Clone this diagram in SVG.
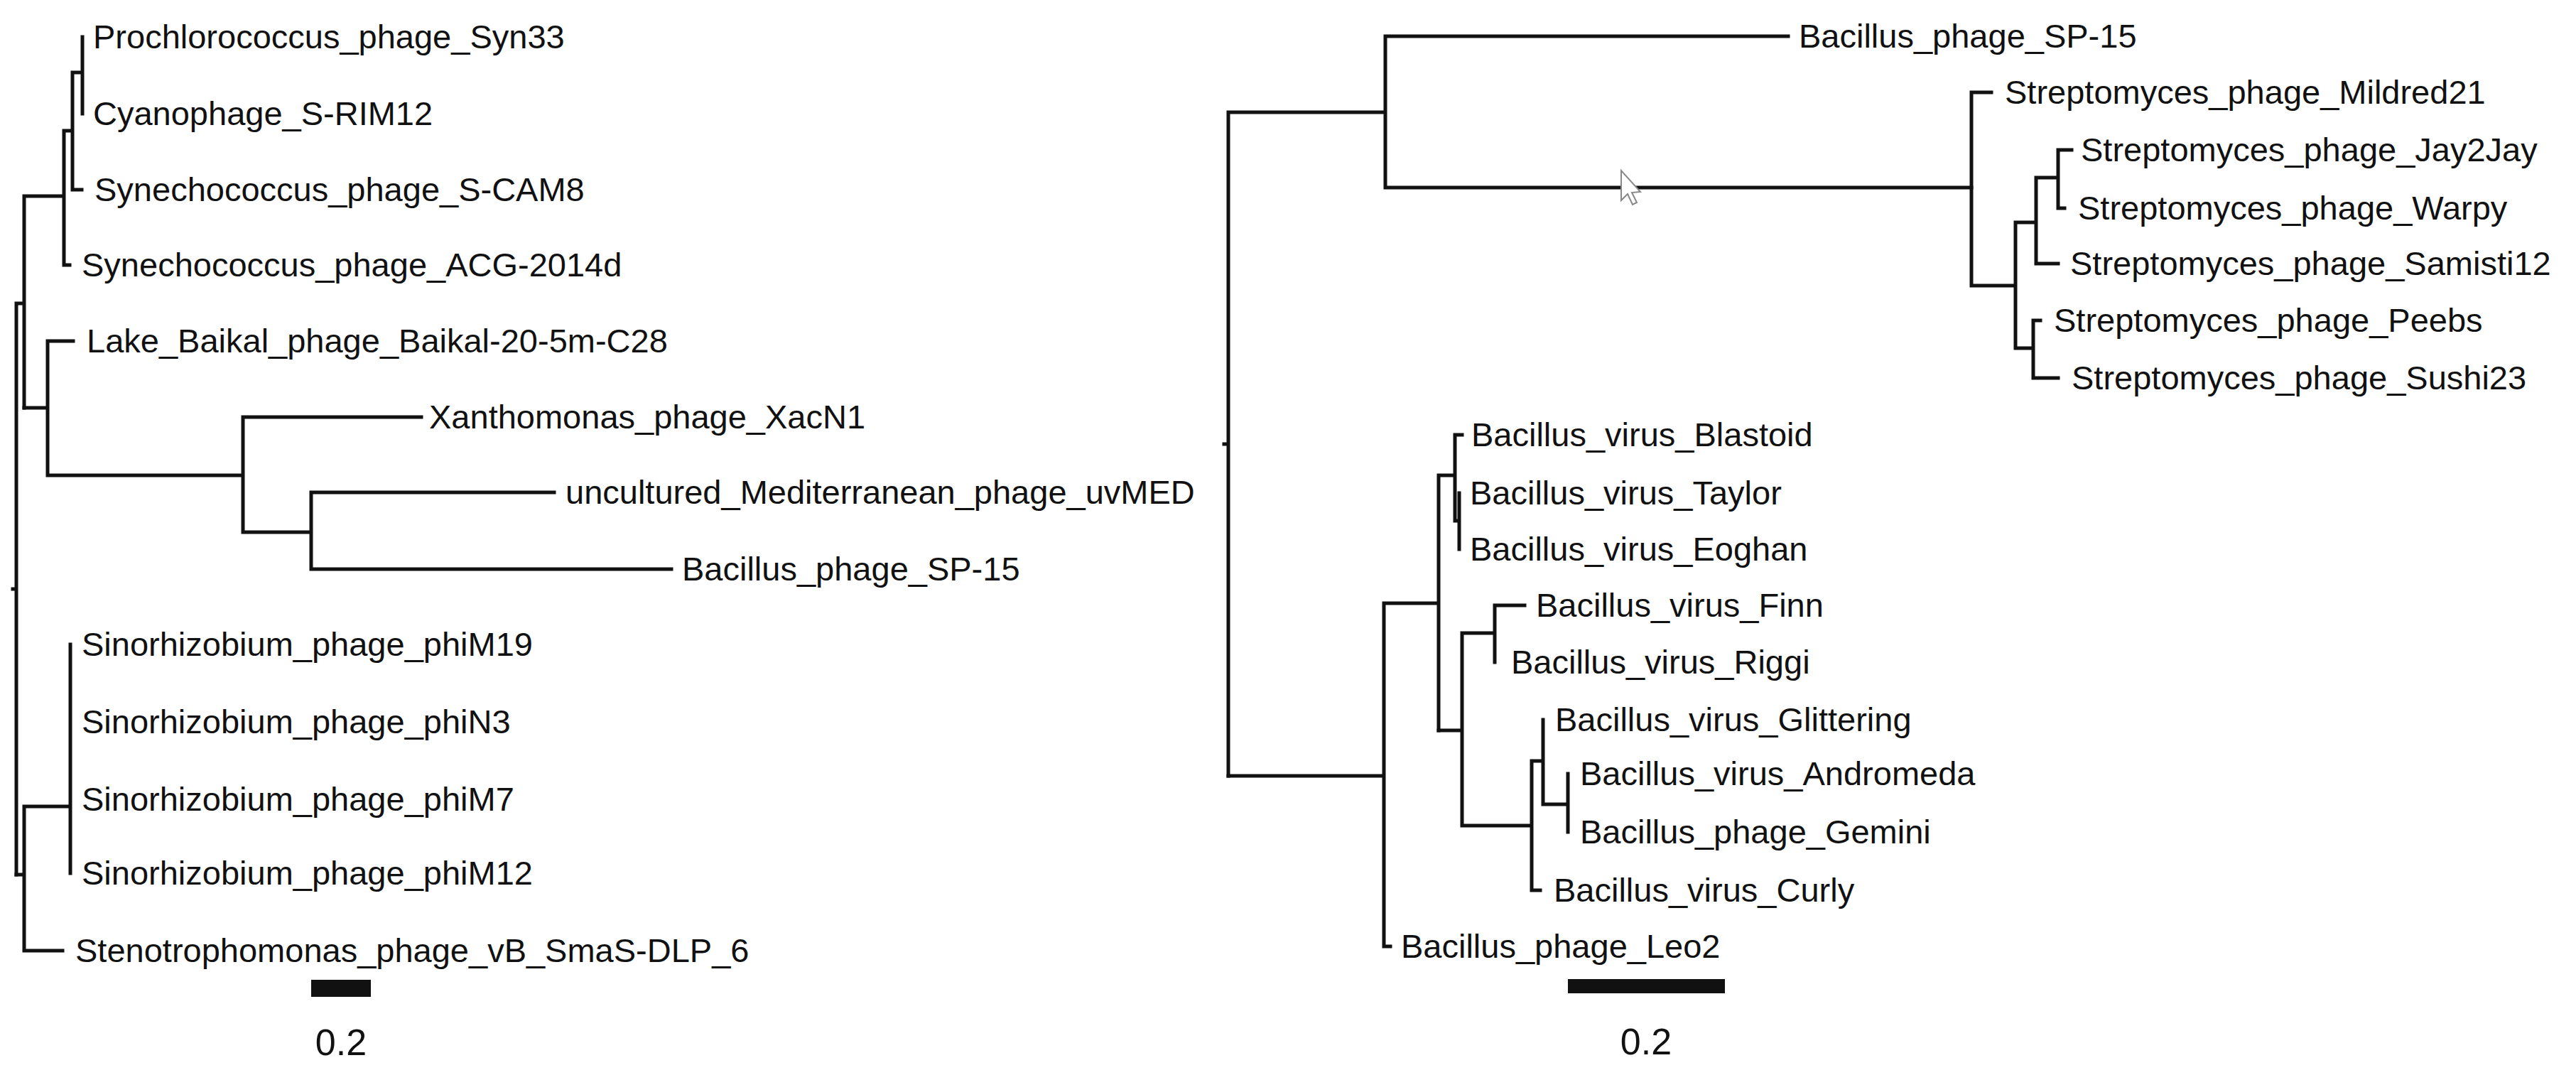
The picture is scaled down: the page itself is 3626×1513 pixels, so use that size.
<svg xmlns="http://www.w3.org/2000/svg" width="3626" height="1513" viewBox="0 0 3626 1513">
<style>
.e{fill:none;stroke:#111;stroke-width:5;stroke-linecap:square;stroke-linejoin:miter}
.t{font-family:"Liberation Sans",Arial,sans-serif;font-size:47px;fill:#111}
.s{font-family:"Liberation Sans",Arial,sans-serif;font-size:52px;fill:#111;text-anchor:middle}
</style>
<rect width="3626" height="1513" fill="#fff"/>
<g id="connectors">
<!-- left tree -->
<path class="e" d="M18,829 H23 M23,427 V1231 M23,427 H34 M34,276 V574 M34,276 H90 M90,184 V373 H98 M90,184 H102 M102,102 V267 H115 M102,102 H116 M116,52 V160"/>
<path class="e" d="M34,574 H67 M67,480 V669 M67,480 H103 M67,669 H342 M342,587 V749 M342,587 H593 M342,749 H438 M438,693 V801 M438,693 H780 M438,801 H945"/>
<path class="e" d="M23,1231 H34 M34,1135 V1338 H88 M34,1135 H99 M99,907 V1229"/>
<!-- right tree -->
<path class="e" d="M1723,625 H1729 M1729,158 V1092 M1729,158 H1950 M1950,51 V264 M1950,51 H2517 M1950,264 H2775"/>
<path class="e" d="M2775,130 V402 M2775,130 H2803 M2775,402 H2837 M2837,313 V490 M2837,313 H2866 M2866,250 V371 H2897 M2866,250 H2897 M2897,211 V293 M2897,211 H2916 M2897,293 H2906 M2837,490 H2862 M2862,451 V532 H2897 M2862,451 H2872"/>
<path class="e" d="M1729,1092 H1948 M1948,849 V1332 H1957 M1948,849 H2025 M2025,669 V1028 M2025,669 H2048 M2048,612 V733 M2048,612 H2058 M2048,733 H2054 M2054,694 V773"/>
<path class="e" d="M2025,1028 H2058 M2058,891 V1162 M2058,891 H2104 M2104,852 V932 M2104,852 H2146 M2058,1162 H2156 M2156,1071 V1253 H2168 M2156,1071 H2172 M2172,1013 V1132 M2172,1132 H2207 M2207,1089 V1171"/>
</g>
<g id="left-leaves">
<g id="n-syn33"><text class="t" x="131" y="68">Prochlorococcus_phage_Syn33</text></g>
<g id="n-srim12"><text class="t" x="131" y="176">Cyanophage_S-RIM12</text></g>
<g id="n-scam8"><text class="t" x="133" y="283">Synechococcus_phage_S-CAM8</text></g>
<g id="n-acg"><text class="t" x="115" y="389">Synechococcus_phage_ACG-2014d</text></g>
<g id="n-baikal"><text class="t" x="122" y="496">Lake_Baikal_phage_Baikal-20-5m-C28</text></g>
<g id="n-xac"><text class="t" x="604" y="603">Xanthomonas_phage_XacN1</text></g>
<g id="n-uvmed"><text class="t" x="796" y="709">uncultured_Mediterranean_phage_uvMED</text></g>
<g id="n-sp15a"><text class="t" x="960" y="817">Bacillus_phage_SP-15</text></g>
<g id="n-m19"><text class="t" x="115" y="923">Sinorhizobium_phage_phiM19</text></g>
<g id="n-n3"><text class="t" x="115" y="1032">Sinorhizobium_phage_phiN3</text></g>
<g id="n-m7"><text class="t" x="115" y="1141">Sinorhizobium_phage_phiM7</text></g>
<g id="n-m12"><text class="t" x="115" y="1245">Sinorhizobium_phage_phiM12</text></g>
<g id="n-steno"><text class="t" x="106" y="1354">Stenotrophomonas_phage_vB_SmaS-DLP_6</text></g>
<g id="scale-left"><rect x="438" y="1379" width="84" height="24" fill="#111"/><text class="s" x="480" y="1485">0.2</text></g>
</g>
<g id="right-leaves">
<g id="n-sp15b"><text class="t" x="2532" y="67">Bacillus_phage_SP-15</text></g>
<g id="n-mildred"><text class="t" x="2822" y="146">Streptomyces_phage_Mildred21</text></g>
<g id="n-jay"><text class="t" x="2929" y="227">Streptomyces_phage_Jay2Jay</text></g>
<g id="n-warpy"><text class="t" x="2925" y="309">Streptomyces_phage_Warpy</text></g>
<g id="n-samisti"><text class="t" x="2914" y="387">Streptomyces_phage_Samisti12</text></g>
<g id="n-peebs"><text class="t" x="2891" y="467">Streptomyces_phage_Peebs</text></g>
<g id="n-sushi"><text class="t" x="2916" y="548">Streptomyces_phage_Sushi23</text></g>
<g id="n-blastoid"><text class="t" x="2071" y="628">Bacillus_virus_Blastoid</text></g>
<g id="n-taylor"><text class="t" x="2069" y="710">Bacillus_virus_Taylor</text></g>
<g id="n-eoghan"><text class="t" x="2069" y="789">Bacillus_virus_Eoghan</text></g>
<g id="n-finn"><text class="t" x="2162" y="868">Bacillus_virus_Finn</text></g>
<g id="n-riggi"><text class="t" x="2127" y="948">Bacillus_virus_Riggi</text></g>
<g id="n-glit"><text class="t" x="2189" y="1029">Bacillus_virus_Glittering</text></g>
<g id="n-andro"><text class="t" x="2224" y="1105">Bacillus_virus_Andromeda</text></g>
<g id="n-gemini"><text class="t" x="2224" y="1187">Bacillus_phage_Gemini</text></g>
<g id="n-curly"><text class="t" x="2187" y="1269">Bacillus_virus_Curly</text></g>
<g id="n-leo2"><text class="t" x="1972" y="1348">Bacillus_phage_Leo2</text></g>
<g id="scale-right"><rect x="2207" y="1378" width="221" height="20" fill="#111"/><text class="s" x="2317" y="1484">0.2</text></g>
</g>
<polygon points="2282,240 2282,282 2291,273 2298,288 2304,285 2297,271 2309,270" fill="#fff" stroke="#888" stroke-width="2"/>
</svg>
